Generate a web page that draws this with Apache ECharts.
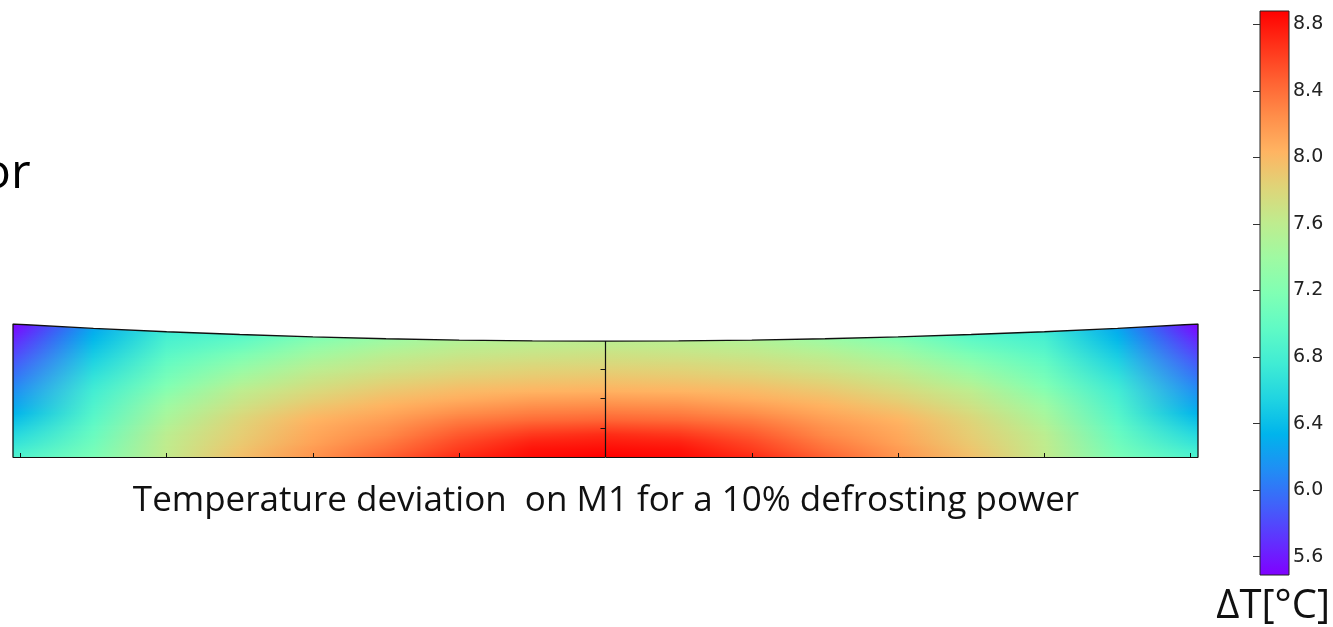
<!DOCTYPE html>
<html>
<head>
<meta charset="utf-8">
<script src="https://cdn.jsdelivr.net/npm/echarts@6/dist/echarts.min.js"></script>
<style>
  html, body { margin: 0; padding: 0; background: #fff; }
  #chart { width: 1333px; height: 627px; }
</style>
</head>
<body>
<div id="chart"></div>
<script>
// Temperature deviation field across the M1 mirror section (x, y in m, dT in °C)
const vMin = 5.49;
const vMax = 8.88;

const colsX = [-4.05, -3.5, -3, -2.5, -2, -1.5, -1, -0.5, 0, 0.5, 1, 1.5, 2, 2.5, 3, 3.5, 4.05];
const rowsY = [0, 0.05, 0.1, 0.15, 0.2, 0.25, 0.3, 0.35, 0.4, 0.45, 0.5, 0.55, 0.6, 0.65, 0.7, 0.75, 0.8, 0.85, 0.9];

// one row of dT per entry of rowsY, one value per entry of colsX
const dT = [
  [6.85, 7.15, 7.63, 7.95, 8.20, 8.45, 8.70, 8.83, 8.88, 8.83, 8.70, 8.45, 8.20, 7.95, 7.63, 7.15, 6.85],
  [6.76, 7.11, 7.62, 7.92, 8.17, 8.39, 8.63, 8.80, 8.83, 8.80, 8.63, 8.39, 8.17, 7.92, 7.62, 7.11, 6.76],
  [6.67, 7.07, 7.61, 7.89, 8.13, 8.33, 8.57, 8.74, 8.77, 8.74, 8.57, 8.33, 8.13, 7.89, 7.61, 7.07, 6.67],
  [6.59, 7.03, 7.59, 7.86, 8.10, 8.27, 8.50, 8.65, 8.70, 8.65, 8.50, 8.27, 8.10, 7.86, 7.59, 7.03, 6.59],
  [6.50, 6.99, 7.54, 7.84, 8.07, 8.22, 8.42, 8.54, 8.58, 8.54, 8.42, 8.22, 8.07, 7.84, 7.54, 6.99, 6.50],
  [6.42, 6.94, 7.49, 7.81, 8.03, 8.16, 8.33, 8.42, 8.45, 8.42, 8.33, 8.16, 8.03, 7.81, 7.49, 6.94, 6.42],
  [6.33, 6.90, 7.44, 7.76, 7.97, 8.10, 8.24, 8.32, 8.35, 8.32, 8.24, 8.10, 7.97, 7.76, 7.44, 6.90, 6.33],
  [6.26, 6.86, 7.39, 7.70, 7.91, 8.04, 8.15, 8.23, 8.25, 8.23, 8.15, 8.04, 7.91, 7.70, 7.39, 6.86, 6.26],
  [6.20, 6.82, 7.32, 7.65, 7.84, 7.97, 8.06, 8.13, 8.15, 8.13, 8.06, 7.97, 7.84, 7.65, 7.32, 6.82, 6.20],
  [6.13, 6.78, 7.24, 7.60, 7.78, 7.91, 7.99, 8.03, 8.05, 8.03, 7.99, 7.91, 7.78, 7.60, 7.24, 6.78, 6.13],
  [6.07, 6.73, 7.17, 7.51, 7.71, 7.84, 7.92, 7.96, 7.97, 7.96, 7.92, 7.84, 7.71, 7.51, 7.17, 6.73, 6.07],
  [6.00, 6.67, 7.11, 7.43, 7.65, 7.77, 7.85, 7.89, 7.91, 7.89, 7.85, 7.77, 7.65, 7.43, 7.11, 6.67, 6.00],
  [5.94, 6.61, 7.06, 7.34, 7.58, 7.70, 7.78, 7.83, 7.84, 7.83, 7.78, 7.70, 7.58, 7.34, 7.06, 6.61, 5.94],
  [5.87, 6.55, 7.00, 7.25, 7.50, 7.64, 7.72, 7.76, 7.77, 7.76, 7.72, 7.64, 7.50, 7.25, 7.00, 6.55, 5.87],
  [5.80, 6.49, 6.94, 7.16, 7.41, 7.57, 7.65, 7.69, 7.71, 7.69, 7.65, 7.57, 7.41, 7.16, 6.94, 6.49, 5.80],
  [5.73, 6.43, 6.88, 7.06, 7.32, 7.48, 7.59, 7.63, 7.64, 7.63, 7.59, 7.48, 7.32, 7.06, 6.88, 6.43, 5.73],
  [5.66, 6.37, 6.83, 6.97, 7.22, 7.39, 7.52, 7.57, 7.58, 7.57, 7.52, 7.39, 7.22, 6.97, 6.83, 6.37, 5.66],
  [5.58, 6.31, 6.77, 6.88, 7.13, 7.30, 7.46, 7.51, 7.52, 7.51, 7.46, 7.30, 7.13, 6.88, 6.77, 6.31, 5.58],
  [5.51, 6.24, 6.71, 6.79, 7.04, 7.21, 7.40, 7.45, 7.46, 7.45, 7.40, 7.21, 7.04, 6.79, 6.71, 6.24, 5.51]
];

// upper (curved) surface of the mirror section
const topX = [-4.05, -3.5, -3, -2.5, -2, -1.5, -1, -0.5, 0, 0.5, 1, 1.5, 2, 2.5, 3, 3.5, 4.05];
const topY = [0.910, 0.880, 0.857, 0.838, 0.822, 0.809, 0.800, 0.795, 0.793, 0.795, 0.800, 0.809, 0.822, 0.838, 0.857, 0.880, 0.910];

const xTicks = [-4, -3, -2, -1, 0, 1, 2, 3, 4];
const yTicks = [0.2, 0.4, 0.6];
const cbTicks = [5.6, 6.0, 6.4, 6.8, 7.2, 7.6, 8.0, 8.4, 8.8];

const caption = 'Temperature deviation  on M1 for a 10% defrosting power';
const cbTitle = 'ΔT[°C]';

// rainbow colour map, low to high
const rainbow = [
  '#8000ff', '#6032fe', '#4062fa', '#208ef4', '#00b4ec', '#20d4e1', '#40ecd4', '#60fac5',
  '#80ffb4', '#9ffaa2', '#bfec8e', '#dfd478', '#ffb462', '#ff8e4a', '#ff6232', '#ff3219', '#ff0000'
];

const xMin = colsX[0];
const xMax = colsX[colsX.length - 1];
const yMax = topY[0];

function cmap(v) {
  const t = Math.min(1, Math.max(0, (v - vMin) / (vMax - vMin)));
  return echarts.color.lerp(t, rainbow);
}

const topPts = topX.map((x, i) => [x, topY[i]]);
const outline = [[xMin, 0]].concat(topPts).concat([[xMax, 0]]);
const centreLine = [[0, 0], [0, topY[topX.indexOf(0)]]];

// horizontal gradient for one pixel line, shaded between two neighbouring rows
function gradientFor(colorsLow, colorsHigh, f) {
  const stops = colsX.map((x, i) => ({
    offset: (x - xMin) / (xMax - xMin),
    color: echarts.color.lerp(f, [colorsLow[i], colorsHigh[i]])
  }));
  return new echarts.graphic.LinearGradient(0, 0, 1, 0, stops);
}

const chart = echarts.init(document.getElementById('chart'), null, { renderer: 'canvas' });

chart.setOption({
  animation: false,
  backgroundColor: '#fff',
  grid: [
    { left: 13, right: 135, top: 324, bottom: 170 },
    { left: 1260, width: 29, top: 11, bottom: 52 }
  ],
  xAxis: [
    {
      gridIndex: 0, type: 'value', min: xMin, max: xMax, z: 5,
      axisLine: { show: true, onZero: false, lineStyle: { color: '#111', width: 1 } },
      axisTick: { show: true, inside: true, length: 4, customValues: xTicks, lineStyle: { color: '#111' } },
      axisLabel: { show: false },
      splitLine: { show: false }
    },
    {
      gridIndex: 1, type: 'value', min: 0, max: 1, show: false
    }
  ],
  yAxis: [
    {
      gridIndex: 0, type: 'value', min: 0, max: yMax, z: 5,
      axisLine: { show: false, onZero: true },
      axisTick: { show: true, length: 5, customValues: yTicks, lineStyle: { color: '#111' } },
      axisLabel: { show: false },
      splitLine: { show: false }
    },
    {
      gridIndex: 1, type: 'value', min: vMin, max: vMax, position: 'right', z: 5,
      axisLine: { show: false },
      axisTick: { show: true, inside: true, length: 7, customValues: cbTicks, lineStyle: { color: '#333' } },
      axisLabel: {
        show: true, customValues: cbTicks, margin: 4,
        formatter: (v) => Number(v).toFixed(1),
        fontFamily: 'DejaVu Sans', fontSize: 19, color: '#222'
      },
      splitLine: { show: false }
    }
  ],
  series: [
    {
      // temperature field, one band per pair of neighbouring rows, shaded pixel line by pixel line
      type: 'custom',
      xAxisIndex: 0, yAxisIndex: 0,
      z: 2,
      clip: true,
      data: rowsY.map((y, k) => [0, y, k]),
      encode: { x: 0, y: 1 },
      renderItem: function (params, api) {
        const k = params.dataIndex;
        const last = k === rowsY.length - 1;
        const yLow = rowsY[k];
        const yHigh = last ? yLow + 0.05 : rowsY[k + 1];
        const colorsLow = dT[k].map(cmap);
        const colorsHigh = last ? colorsLow : dT[k + 1].map(cmap);
        const pTop = api.coord([xMin, yHigh]);
        const pBot = api.coord([xMax, yLow]);
        const h = pBot[1] - pTop[1];
        const children = [];
        const pyStart = Math.floor(pTop[1]);
        const pyEnd = Math.ceil(pBot[1]);
        for (let py = pyStart; py < pyEnd; py++) {
          const mid = Math.min(pBot[1], Math.max(pTop[1], py + 0.5));
          const f = (pBot[1] - mid) / h;
          children.push({
            type: 'rect',
            shape: { x: Math.floor(pTop[0]), y: py, width: Math.ceil(pBot[0]) - Math.floor(pTop[0]), height: 1 },
            style: { fill: gradientFor(colorsLow, colorsHigh, f) }
          });
        }
        return { type: 'group', children: children };
      }
    },
    {
      // white above the curved upper surface
      type: 'line',
      xAxisIndex: 0, yAxisIndex: 0,
      z: 6,
      data: topPts,
      symbol: 'none',
      lineStyle: { width: 0 },
      areaStyle: { color: '#fff', opacity: 1, origin: 'end' },
      silent: true
    },
    {
      // section outline: sides and upper surface
      type: 'line',
      xAxisIndex: 0, yAxisIndex: 0,
      z: 7,
      data: outline,
      symbol: 'none',
      lineStyle: { color: '#111', width: 1.3 },
      silent: true
    },
    {
      // symmetry axis of the section
      type: 'line',
      xAxisIndex: 0, yAxisIndex: 0,
      z: 7,
      data: centreLine,
      symbol: 'none',
      lineStyle: { color: '#111', width: 1.2 },
      silent: true
    },
    {
      // colour bar
      type: 'custom',
      xAxisIndex: 1, yAxisIndex: 1,
      z: 2,
      data: [[0, vMin]],
      renderItem: function (params, api) {
        const pTL = api.coord([0, vMax]);
        const pBR = api.coord([1, vMin]);
        const stops = rainbow.map((c, i) => ({ offset: i / (rainbow.length - 1), color: c }));
        return {
          type: 'rect',
          shape: { x: pTL[0], y: pTL[1], width: pBR[0] - pTL[0], height: pBR[1] - pTL[1] },
          style: {
            fill: new echarts.graphic.LinearGradient(0, 1, 0, 0, stops),
            stroke: '#222', lineWidth: 1
          }
        };
      }
    }
  ],
  graphic: [
    {
      type: 'text', left: -18, top: 150,
      style: { text: 'or', font: '48px "Open Sans"', fill: '#000' }
    },
    {
      type: 'text', x: 606, y: 501,
      style: { text: caption, font: '35px "Open Sans"', fill: '#111', align: 'center', verticalAlign: 'middle' }
    },
    {
      type: 'text', x: 1330, y: 607,
      style: { text: cbTitle, font: '40px "Open Sans"', fill: '#111', align: 'right', verticalAlign: 'middle' }
    }
  ]
});
</script>
</body>
</html>
